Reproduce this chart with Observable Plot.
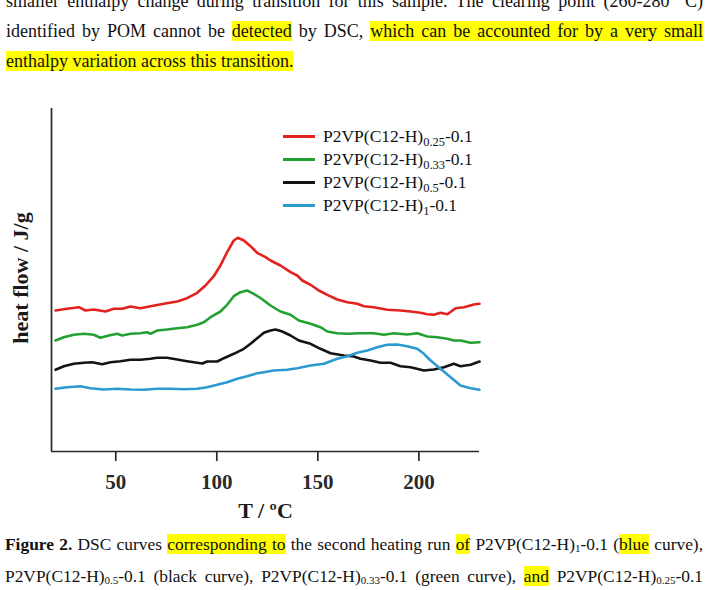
<!DOCTYPE html>
<html>
<head>
<meta charset="utf-8">
<script src="https://cdn.jsdelivr.net/npm/d3@7"></script>
<script src="https://cdn.jsdelivr.net/npm/@observablehq/plot@0.6"></script>
<style>
  html, body { margin: 0; padding: 0; background: #fff; }
  body { width: 708px; height: 590px; position: relative; overflow: hidden;
         font-family: "Liberation Serif", "Times New Roman", serif; color: #111; }
  .line { position: absolute; left: 6px; width: 697px; height: 30px; line-height: 30px;
          font-size: 18px; white-space: nowrap; text-align: justify; text-align-last: justify; }
  .line.last { text-align-last: left; }
  .line.cap { font-size: 17.4px; left: 5px; width: 698px; }
  .hl { background: #ffff00; }
  .cap sub { font-size: 11px; vertical-align: -2px; line-height: 0; }
  #chart { position: absolute; left: 0; top: 0; }
  #legend { position: absolute; left: 283px; top: 125px; font-size: 17.5px; }
  .lrow { position: absolute; left: 0; height: 23px; line-height: 23px; white-space: nowrap; }
  .sw { position: absolute; left: 0; top: 10px; width: 32px; height: 2.6px; }
  .lt { position: absolute; left: 40px; top: 0; }
  .lt sub { font-size: 12.5px; vertical-align: -4px; line-height: 0; }
</style>
</head>
<body>
<div class="line" style="top:-14px">smaller enthalpy change during transition for this sample. The clearing point (260-280 °C)</div>
<div class="line" style="top:16px">identified by POM cannot be <span class="hl">detected</span> by DSC, <span class="hl">which can be accounted for by a very small</span></div>
<div class="line last" style="top:46px"><span class="hl">enthalpy variation across this transition.</span></div>

<div id="chart"></div>
<div id="legend"></div>

<div class="line cap" style="top:529px"><b>Figure 2.</b> DSC curves <span class="hl">corresponding to</span> the second heating run <span class="hl">of</span> P2VP(C12-H)<sub>1</sub>-0.1 (<span class="hl">blue</span> curve),</div>
<div class="line cap" style="top:561px">P2VP(C12-H)<sub>0.5</sub>-0.1 (black curve), P2VP(C12-H)<sub>0.33</sub>-0.1 (green curve), <span class="hl">and</span> P2VP(C12-H)<sub>0.25</sub>-0.1</div>

<script>
// ---- data (temperature in °C, heat flow in arbitrary offset units) ----
const redT = [20.2,25.9,31.7,35.0,39.1,44.9,49.0,53.2,57.3,62.2,67.2,73.8,80.4,85.3,90.3,94.4,98.5,101.8,105.1,108.4,110.4,113.4,116.7,120.0,124.1,126.6,131.5,136.5,139.8,142.3,146.4,150.5,154.7,159.6,164.6,169.5,172.8,177.7,184.4,190.9,195.9,200.8,204.2,207.4,210.7,214.1,218.2,222.3,227.2,230.0];
const redY = [141,142.7,144.3,141,142,140,142.7,142.7,145,143.3,145.3,147.7,150,153.3,158.7,166,175.3,186,199.3,211,213.7,211,205.3,198.7,194.3,191,186,179.3,176,171,166.7,161,156.7,152,149.3,147.7,145.3,144.3,141.7,141,140,138.7,137.3,136.7,138.7,137.3,143.3,144.3,147,147.7];

const greenT = [20.2,24.3,29.2,34.2,39.1,42.4,46.5,50.7,53.2,57.3,62.2,65.5,67.2,70.5,75.4,80.4,85.3,90.3,93.6,96.9,101.8,105.1,108.4,111.7,115.0,118.3,121.6,126.6,131.5,136.5,140.6,146.4,151.3,154.7,159.6,164.6,171.1,177.7,182.7,187.6,194.3,199.2,204.2,209.1,214.1,217.3,220.6,225.6,230.0];
const greenY = [111,114.3,116.7,117.7,116.7,113.7,116,117.7,116,117.7,118.3,119.3,117.7,121,122,123.3,124.3,126.7,129.3,134.3,140,146.7,155.3,159.3,161,157.7,153.5,146,140,136.7,131,127.7,124.3,120,118.3,117.7,118.3,118.3,116.7,118.3,117,118.3,115,114.3,112.7,111,111,108.7,109.3];

const blackT = [20.2,24.3,29.2,34.2,38.3,43.3,47.4,52.3,57.3,62.2,67.2,70.5,75.4,80.4,85.3,90.3,92.8,95.2,100.2,103.5,108.4,113.4,116.7,120.0,123.3,126.6,129.1,132.4,136.5,140.6,146.4,151.3,156.3,162.9,167.8,171.1,176.1,181.0,186.0,190.9,195.9,202.5,207.4,212.4,217.3,220.6,225.6,230.0];
const blackY = [81.7,85.3,87.7,88.7,89.3,87.3,89.3,90.3,91.7,91.7,92.7,93.7,93.7,92,90.3,88.7,88,90,90,93.3,97.7,102.7,107.7,113.3,118.7,121,122,120,116,111,107.7,102.7,98.3,96,95,92.7,91,88.7,88.7,85.3,84.3,81,82,84.3,87.7,85.3,86.7,90];

const blueT = [20.2,25.9,32.5,37.5,44.1,50.7,57.3,63.9,70.5,77.1,83.7,90.3,95.2,100.2,105.1,110.1,115.0,120.0,123.3,128.2,134.8,139.8,146.4,153.0,159.6,164.6,169.5,174.5,179.4,184.4,189.3,194.3,199.2,202.5,205.8,210.7,215.7,220.6,225.6,230.0];
const blueY = [62.7,64.3,65.3,63.3,62,62.7,62,61.7,62.7,62.7,62.3,62.7,64.3,66.7,69.3,72.7,75.3,78.3,79.3,81,81.7,83.3,86,87.7,92.7,95.3,98.7,101,104.3,106.7,107,105.3,102.7,97.7,91,82.7,74.3,66,63.3,61.7];

const seriesNames = ["P2VP(C12-H)0.25-0.1","P2VP(C12-H)0.33-0.1","P2VP(C12-H)0.5-0.1","P2VP(C12-H)1-0.1"];
const seriesBase = ["P2VP(C12-H)","P2VP(C12-H)","P2VP(C12-H)","P2VP(C12-H)"];
const seriesSub = ["0.25","0.33","0.5","1"];
const seriesTail = ["-0.1","-0.1","-0.1","-0.1"];
const seriesColors = ["#e3211f","#22a032","#141414","#2a9ad1"];
const xTicks = [50,100,150,200];
const xLabel = "T / ºC";
const yLabel = "heat flow / J/g";

// ---- build table ----
const table = [];
[[redT,redY],[greenT,greenY],[blackT,blackY],[blueT,blueY]].forEach(([T,Y],i) => {
  T.forEach((t,j) => table.push({T: t, H: Y[j], s: seriesNames[i]}));
});

const xMin = 18.2, xMax = 230, yMin = 0, yMax = 343;

const chart = Plot.plot({
  width: 708,
  height: 530,
  marginLeft: 51,
  marginRight: 229,
  marginTop: 108,
  marginBottom: 79,
  style: {fontFamily: "Liberation Serif", fontSize: "21px", fontWeight: "bold", color: "#2a2a2a", background: "transparent", overflow: "visible"},
  x: {domain: [xMin, xMax], ticks: xTicks, tickSize: 10, tickPadding: 13, label: null},
  y: {domain: [yMin, yMax], axis: null},
  color: {domain: seriesNames, range: seriesColors},
  marks: [
    Plot.ruleX([xMin], {y1: yMin, y2: yMax, stroke: "#2a2a2a", strokeWidth: 1.7}),
    Plot.ruleY([yMin], {x1: xMin, x2: xMax, stroke: "#2a2a2a", strokeWidth: 1.7}),
    Plot.line(table, {x: "T", y: "H", z: "s", stroke: "s", strokeWidth: 2.6, curve: "linear"}),
    Plot.text([xLabel], {frameAnchor: "bottom", textAnchor: "middle", lineAnchor: "middle", dy: 59, fontSize: 22, fontWeight: "bold", fill: "#1a1a1a"}),
    Plot.text([yLabel], {frameAnchor: "left", textAnchor: "middle", lineAnchor: "middle", dx: -31, dy: -2, rotate: -90, fontSize: 22, fontWeight: "bold", fill: "#1a1a1a"})
  ]
});
document.getElementById("chart").appendChild(chart);
chart.querySelectorAll('[aria-label="x-axis tick"] path, [aria-label="x-axis"] path').forEach(p => p.setAttribute("stroke-width", "1.7"));

// ---- legend (HTML, for subscripts) ----
const legend = document.getElementById("legend");
seriesNames.forEach((n,i) => {
  const row = document.createElement("div");
  row.className = "lrow";
  row.style.top = (i * 23) + "px";
  row.innerHTML = `<span class="sw" style="background:${seriesColors[i]}"></span><span class="lt">${seriesBase[i]}<sub>${seriesSub[i]}</sub>${seriesTail[i]}</span>`;
  legend.appendChild(row);
});
</script>
</body>
</html>
